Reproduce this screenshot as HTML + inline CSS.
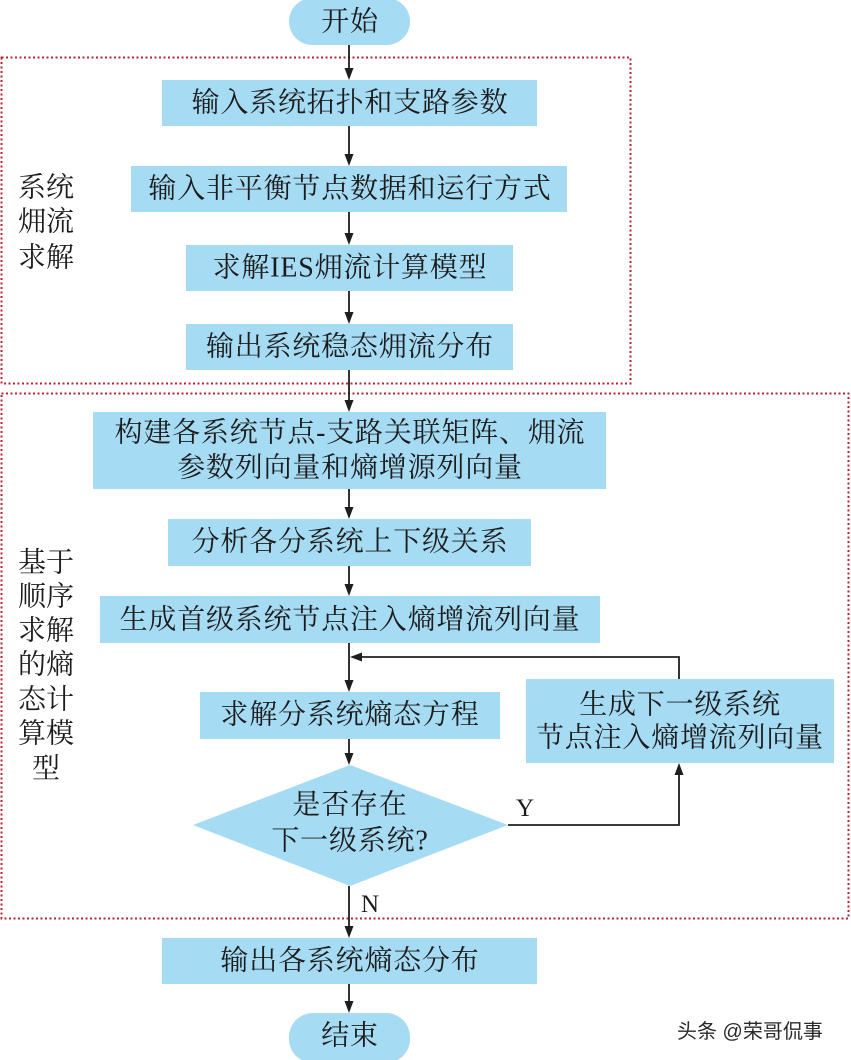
<!DOCTYPE html>
<html>
<head>
<meta charset="utf-8">
<style>
html,body{margin:0;padding:0;background:#fff;}
svg{display:block;}
.t{font-family:"Liberation Serif","Noto Serif CJK SC","WenQuanYi Zen Hei",serif;font-size:28px;fill:#1c1c1c;letter-spacing:0.8px;}
.lab{font-family:"Liberation Serif","Noto Serif CJK SC","WenQuanYi Zen Hei",serif;font-size:28px;fill:#1c1c1c;}
.yn{font-family:"Liberation Serif","Noto Serif CJK SC",serif;font-size:25px;fill:#1c1c1c;}
.wm{font-family:"Liberation Sans","Noto Sans CJK SC","WenQuanYi Zen Hei",sans-serif;font-size:20px;fill:#2a2a2a;}
</style>
</head>
<body>
<svg width="851" height="1060" viewBox="0 0 851 1060" xmlns="http://www.w3.org/2000/svg">
  <!-- dashed group boxes -->
  <rect x="1.5" y="57.5" width="629" height="326" fill="none" stroke="#b82530" stroke-width="2" stroke-dasharray="2 2.5"/>
  <rect x="1.5" y="393.5" width="847" height="525" fill="none" stroke="#b82530" stroke-width="2" stroke-dasharray="2 2.5"/>

  <g fill="#a6dbf4">
    <!-- start / end -->
    <rect x="289" y="-2" width="121" height="47" rx="23.5" ry="23.5"/>
    <rect x="289" y="1013" width="121" height="50" rx="24" ry="24"/>
    <rect x="162" y="80" width="375" height="46"/>
    <rect x="131" y="166" width="436" height="46"/>
    <rect x="186" y="245" width="327" height="46"/>
    <rect x="186" y="324" width="327" height="46"/>
    <rect x="93" y="412" width="513" height="77"/>
    <rect x="168" y="519" width="363" height="47"/>
    <rect x="100" y="596" width="500" height="47"/>
    <rect x="200" y="692" width="300" height="47"/>
    <rect x="526" y="679" width="308" height="84"/>
    <polygon points="350,765 508,825 350,886 193,825"/>
    <rect x="162" y="938" width="375" height="46"/>
  </g>

  <!-- connectors -->
  <g stroke="#1e1e1e" stroke-width="1.8" fill="none">
    <line x1="349" y1="45" x2="349" y2="70"/>
    <line x1="349" y1="126" x2="349" y2="156"/>
    <line x1="349" y1="212" x2="349" y2="235"/>
    <line x1="349" y1="291" x2="349" y2="314"/>
    <line x1="349" y1="370" x2="349" y2="402"/>
    <line x1="349" y1="489" x2="349" y2="509"/>
    <line x1="349" y1="566" x2="349" y2="586"/>
    <line x1="349" y1="643" x2="349" y2="681"/>
    <polyline points="679,679 679,657 360,657"/>
    <line x1="349" y1="739" x2="349" y2="755"/>
    <polyline points="508,825 679,825 679,774"/>
    <line x1="349" y1="886" x2="349" y2="928"/>
    <line x1="349" y1="984" x2="349" y2="1003"/>
  </g>
  <g fill="#1e1e1e">
    <polygon points="344.5,68 353.5,68 349,80"/>
    <polygon points="344.5,154 353.5,154 349,166"/>
    <polygon points="344.5,233 353.5,233 349,245"/>
    <polygon points="344.5,312 353.5,312 349,324"/>
    <polygon points="344.5,400 353.5,400 349,412"/>
    <polygon points="344.5,507 353.5,507 349,519"/>
    <polygon points="344.5,584 353.5,584 349,596"/>
    <polygon points="344.5,680 353.5,680 349,692"/>
    <polygon points="362,652.5 362,661.5 350,657"/>
    <polygon points="344.5,753 353.5,753 349,765"/>
    <polygon points="674.5,775 683.5,775 679,763"/>
    <polygon points="344.5,926 353.5,926 349,938"/>
    <polygon points="344.5,1001 353.5,1001 349,1013"/>
  </g>

  <!-- node text -->
  <g class="t" text-anchor="middle" dominant-baseline="central">
    <text x="350" y="22">开始</text>
    <text x="350" y="103">输入系统拓扑和支路参数</text>
    <text x="350" y="189">输入非平衡节点数据和运行方式</text>
    <text x="350" y="268">求解IES㶲流计算模型</text>
    <text x="350" y="347">输出系统稳态㶲流分布</text>
    <text x="350" y="433">构建各系统节点-支路关联矩阵、㶲流</text>
    <text x="350" y="468">参数列向量和熵增源列向量</text>
    <text x="350" y="542">分析各分系统上下级关系</text>
    <text x="350" y="620">生成首级系统节点注入熵增流列向量</text>
    <text x="350" y="715">求解分系统熵态方程</text>
    <text x="680" y="705">生成下一级系统</text>
    <text x="680" y="738">节点注入熵增流列向量</text>
    <text x="350" y="805">是否存在</text>
    <text x="350" y="841">下一级系统?</text>
    <text x="350" y="961">输出各系统熵态分布</text>
    <text x="350" y="1036">结束</text>
  </g>

  <!-- side labels -->
  <g class="lab" dominant-baseline="central">
    <text x="18" y="188">系统</text>
    <text x="18" y="222">㶲流</text>
    <text x="18" y="258">求解</text>
    <text x="18" y="563">基于</text>
    <text x="18" y="597">顺序</text>
    <text x="18" y="631">求解</text>
    <text x="18" y="665">的熵</text>
    <text x="18" y="700">态计</text>
    <text x="18" y="734">算模</text>
    <text x="32" y="769">型</text>
  </g>

  <text class="yn" x="516" y="816">Y</text>
  <text class="yn" x="361" y="912">N</text>

  <text class="wm" x="677" y="1038">头条 @荣哥侃事</text>
</svg>
</body>
</html>
